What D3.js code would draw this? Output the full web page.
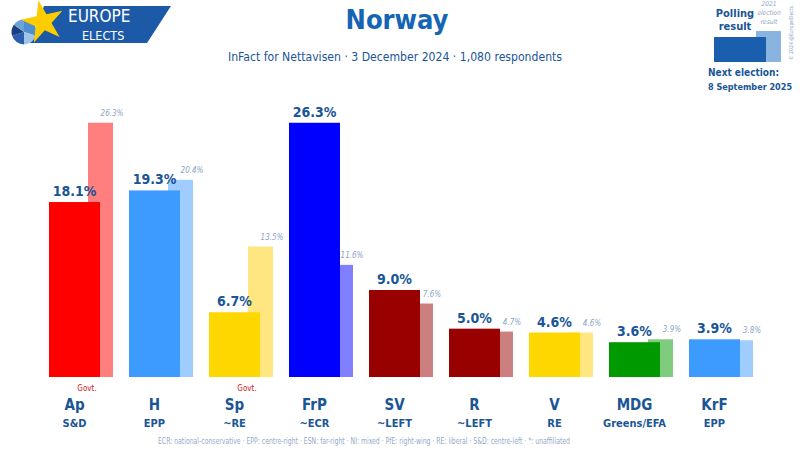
<!DOCTYPE html>
<html><head><meta charset="utf-8">
<script src="https://cdn.jsdelivr.net/npm/d3@7"></script>
<style>body{margin:0;background:#fff}svg{display:block}text{font-family:"DejaVu Sans Condensed","DejaVu Sans",sans-serif;font-stretch:condensed}</style>
</head><body>
<svg id="c" width="800" height="451"></svg>
<script>
const parties = ["Ap","H","Sp","FrP","SV","R","V","MDG","KrF"];
const groups = ["S&D","EPP","~RE","~ECR","~LEFT","~LEFT","RE","Greens/EFA","EPP"];
const poll = [18.1,19.3,6.7,26.3,9.0,5.0,4.6,3.6,3.9];
const election = [26.3,20.4,13.5,11.6,7.6,4.7,4.6,3.9,3.8];
const colors = ["#ff0000","#3d9bff","#ffd700","#0000ff","#990000","#990000","#ffd700","#009900","#3d9bff"];
const lightColors = ["#ff7f7f","#a0cdff","#ffe680","#8080ff","#cc7f7f","#cc7f7f","#ffe680","#7fcc7f","#a0cdff"];
const govt = ["Ap","Sp"];
const footnote = "ECR: national-conservative · EPP: centre-right · ESN: far-right · NI: mixed · PfE: right-wing · RE: liberal · S&D: centre-left · *: unaffiliated";

const svg = d3.select("#c");
const dark = "#1a5596";
const x = d3.scaleBand().domain(parties).range([35, 755]);
const y = d3.scaleLinear().domain([0, 30]).range([377, 87]);
const data = parties.map((p,i)=>({p, g:groups[i], v:poll[i], e:election[i], c:colors[i], l:lightColors[i]}));

svg.selectAll("rect.e").data(data).join("rect")
  .attr("x", d=>x(d.p)+53).attr("width",25)
  .attr("y", d=>y(d.e)).attr("height", d=>y(0)-y(d.e)).attr("fill", d=>d.l);
svg.selectAll("rect.p").data(data).join("rect")
  .attr("x", d=>x(d.p)+14).attr("width",51)
  .attr("y", d=>y(d.v)).attr("height", d=>y(0)-y(d.v)).attr("fill", d=>d.c);
svg.selectAll("text.v").data(data).join("text")
  .attr("x", d=>x(d.p)+39.5).attr("y", d=>y(d.v)-6)
  .attr("text-anchor","middle").attr("font-size",14).attr("font-weight","bold").attr("fill",dark)
  .text(d=>d.v.toFixed(1)+"%");
svg.selectAll("text.e").data(data).join("text")
  .attr("x", d=>x(d.p)+77).attr("y", d=>y(d.e)-7)
  .attr("text-anchor","middle").attr("font-size",8).attr("font-style","italic").attr("fill","#8aa4c4")
  .text(d=>d.e.toFixed(1)+"%");
svg.selectAll("text.g").data(data.filter(d=>govt.includes(d.p))).join("text")
  .attr("x", d=>x(d.p)+52).attr("y", 391)
  .attr("text-anchor","middle").attr("font-size",8).attr("fill","#cc2222").text("Govt.");
svg.selectAll("text.n").data(data).join("text")
  .attr("x", d=>x(d.p)+39.5).attr("y", 410)
  .attr("text-anchor","middle").attr("font-size",15).attr("font-weight","bold").attr("fill",dark).text(d=>d.p);
svg.selectAll("text.gr").data(data).join("text")
  .attr("x", d=>x(d.p)+39.5).attr("y", 427)
  .attr("text-anchor","middle").attr("font-size",11).attr("font-weight","bold").attr("fill",dark).text(d=>d.g);
svg.append("text").attr("x",364).attr("y",444).attr("text-anchor","middle").attr("font-size",9)
  .attr("textLength",412).attr("lengthAdjust","spacingAndGlyphs")
  .attr("fill","#93aacb").text(footnote);

svg.append("text").attr("x",397).attr("y",29).attr("text-anchor","middle").attr("font-size",27)
  .attr("font-weight","bold").attr("fill","#1565b4").text("Norway");
svg.append("text").attr("x",395).attr("y",61).attr("text-anchor","middle").attr("font-size",13)
  .attr("textLength",334).attr("lengthAdjust","spacingAndGlyphs")
  .attr("fill",dark).text("InFact for Nettavisen · 3 December 2024 · 1,080 respondents");

// logo
svg.append("path").attr("d","M44,6 L171,6 L147,43 L30,43 Z").attr("fill","#1c5aa8");
const pie = d3.pie().sort(null)([3,2,2,1.5,1.5]);
const arc = d3.arc().innerRadius(0).outerRadius(12.5);
const pieCols = ["#4f8fce","#9fc4e8","#2b5db0","#1c3f80","#6aa3da"];
svg.append("g").attr("transform","translate(24,32)").selectAll("path").data(pie).join("path")
  .attr("d",arc).attr("fill",(d,i)=>pieCols[i]);
const star = d3.symbol().type(d3.symbolStar).size(560)();
svg.append("path").attr("d",star).attr("transform","translate(43,22) rotate(-12)").attr("fill","#ffcc00");
svg.append("text").attr("x",68).attr("y",22).attr("font-size",17).attr("fill","#fff").text("EUROPE");
svg.append("text").attr("x",82).attr("y",40).attr("font-size",12.5).attr("fill","#fff").text("ELECTS");

// legend
svg.append("rect").attr("x",756).attr("y",31).attr("width",25).attr("height",31).attr("fill","#8ab4e0");
svg.append("rect").attr("x",714).attr("y",37).attr("width",52).attr("height",25).attr("fill","#1a5fae");
svg.append("text").attr("x",735).attr("y",17).attr("text-anchor","middle").attr("font-size",11).attr("font-weight","bold").attr("fill",dark).text("Polling");
svg.append("text").attr("x",735).attr("y",30).attr("text-anchor","middle").attr("font-size",11).attr("font-weight","bold").attr("fill",dark).text("result");
[["2021",6],["election",15],["result",24]].forEach(([t,yy])=>svg.append("text").attr("x",769).attr("y",yy)
  .attr("text-anchor","middle").attr("font-size",6.5).attr("font-style","italic").attr("fill","#8aa4c4").text(t));
svg.append("text").attr("transform","translate(793,60) rotate(-90)").attr("font-size",5.5)
  .attr("textLength",54).attr("lengthAdjust","spacingAndGlyphs").attr("fill","#8aa4c4").text("© 2024 @EuropeElects");
svg.append("text").attr("x",708).attr("y",76).attr("font-size",10).attr("font-weight","bold").attr("fill",dark).text("Next election:");
svg.append("text").attr("x",708).attr("y",90).attr("font-size",9).attr("font-weight","bold").attr("fill",dark).text("8 September 2025");
</script>
</body></html>
